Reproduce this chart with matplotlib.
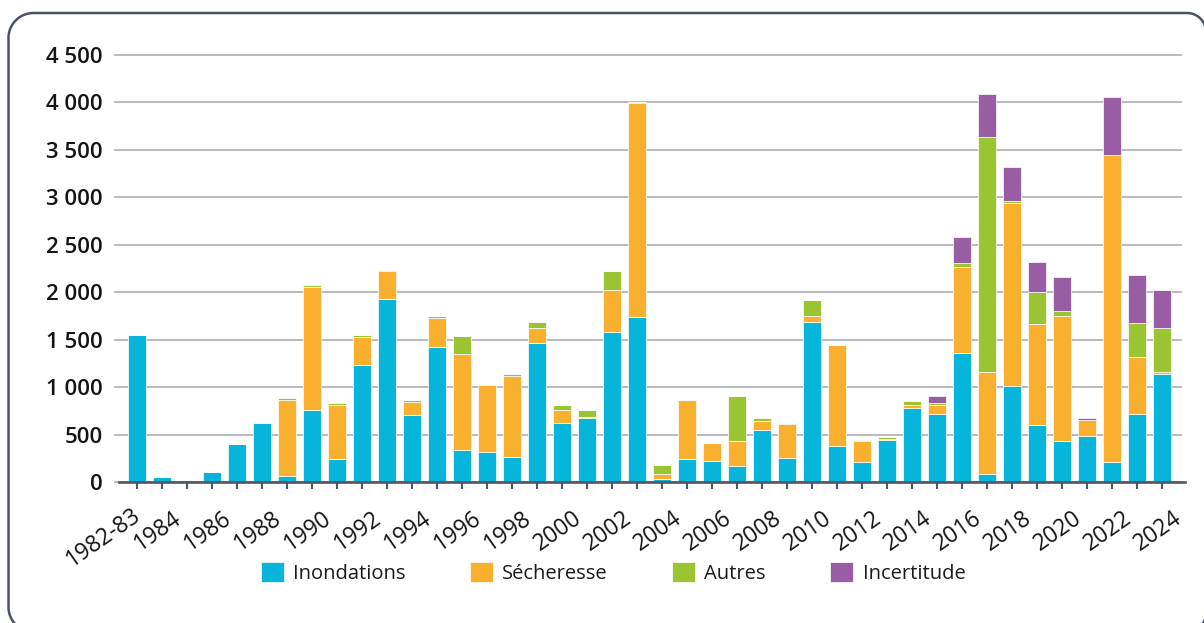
import matplotlib
matplotlib.use("Agg")
import matplotlib.pyplot as plt
import numpy as np
from matplotlib.patches import PathPatch
from matplotlib.path import Path
from matplotlib.transforms import ScaledTranslation

plt.rcParams['font.family'] = ['Open Sans', 'DejaVu Sans']
plt.rcParams['savefig.bbox'] = 'standard'

categories = ['1982-83'] + [str(y) for y in range(1984, 2025)]
shown_labels = ['1982-83', '1984', '1986', '1988', '1990', '1992', '1994', '1996', '1998',
                '2000', '2002', '2004', '2006', '2008', '2010', '2012', '2014', '2016',
                '2018', '2020', '2022', '2024']

inondations = [1550, 50, 25, 110, 400, 620, 65, 758, 242, 1235, 1928, 701, 1425, 341,
               315, 264, 1463, 625, 674, 1576, 1734, 29, 242, 220, 172, 545, 248, 1683,
               376, 213, 446, 784, 712, 1361, 80, 1010, 598, 436, 484, 207, 720, 1143]
secheresse = [0, 0, 0, 0, 0, 0, 796, 1300, 572, 294, 299, 144, 302, 1003, 712, 858,
              156, 133, 15, 449, 2255, 57, 625, 191, 264, 103, 358, 62, 1070, 217, 5,
              30, 95, 909, 1076, 1930, 1064, 1316, 165, 3244, 600, 20]
autres = [0, 0, 0, 0, 0, 0, 19, 17, 19, 18, 5, 22, 18, 199, 7, 17, 72, 56, 72, 194,
          18, 96, 0, 0, 473, 22, 11, 172, 0, 10, 20, 42, 30, 43, 2480, 19, 338, 50,
          5, 0, 353, 463]
incertitude = [0] * 32 + [72, 265, 457, 357, 317, 360, 20, 610, 510, 396]

series_names = ['Inondations', 'Sécheresse', 'Autres', 'Incertitude']
colors = ['#07B5DA', '#F8B02E', '#9BC432', '#985DA3']

yticks = [0, 500, 1000, 1500, 2000, 2500, 3000, 3500, 4000, 4500]
ytick_labels = ['0', '500', '1 000', '1 500', '2 000', '2 500', '3 000', '3 500', '4 000', '4 500']

W, H = 1204, 623
fig = plt.figure(figsize=(W / 100, H / 100), dpi=100)
ax = fig.add_axes([115 / W, (H - 482) / H, (1181 - 115) / W, (482 - 55) / H])

x = np.arange(len(categories))
bottom = np.zeros(len(categories))
handles = []
for name, vals, col in zip(series_names, [inondations, secheresse, autres, incertitude], colors):
    vals = np.array(vals, dtype=float)
    b = ax.bar(x, vals, width=0.72, bottom=bottom, color=col, edgecolor='white',
               linewidth=0.5, label=name, zorder=3)
    handles.append(b)
    bottom += vals

ax.set_xlim(-0.87, 41.75)
ax.set_ylim(0, 4500)
ax.set_yticks(yticks)
ax.set_yticklabels(ytick_labels, fontsize=16, fontweight='semibold', color='#141414')
ax.tick_params(axis='y', length=0, pad=8.6)

ax.yaxis.grid(True, color='#AAAEB6', linewidth=1.2, zorder=0)
for gl in ax.get_ygridlines():
    gl.set_clip_on(False)
ax.set_axisbelow(True)

for s in ['top', 'right', 'left']:
    ax.spines[s].set_visible(False)
ax.spines['bottom'].set_color('#4F5664')
ax.spines['bottom'].set_linewidth(1.9)
ax.spines['bottom'].set_zorder(5)
ax.spines['bottom'].set_bounds(-0.7, 41.9)

ax.set_xticks(x)
labels = [c if c in shown_labels else '' for c in categories]
ax.set_xticklabels(labels, rotation=35, ha='right', va='top', rotation_mode='anchor',
                   fontsize=16.5, color='#141414')
ax.tick_params(axis='x', length=5, width=1.5, color='#4F5664', pad=12.5)
for i, lab in enumerate(ax.get_xticklabels()):
    dx = -5 if i == 0 else 10.5
    dy = 3 if i == 0 else 0
    lab.set_transform(lab.get_transform() + ScaledTranslation(dx / 100, dy / 100, fig.dpi_scale_trans))

leg = fig.legend(handles, series_names, loc='center', bbox_to_anchor=(613 / W, (H - 573) / H),
                 ncol=4, frameon=False, fontsize=14.5, handlelength=1.15, handleheight=1.15,
                 handletextpad=0.45, columnspacing=3.2)
for t in leg.get_texts():
    t.set_color('#1a1a1a')

# rounded outer frame, built in pixel units then mapped to figure fractions
def arc(cx, cy, r, a0, a1, n=24):
    t = np.radians(np.linspace(a0, a1, n))
    return np.column_stack([cx + r * np.cos(t), cy + r * np.sin(t)])

L_, R_, T_, B_ = 8.5, 1206.0, 13.0, 632.0   # image pixel coords (y down)
r1, r2 = 25.0, 19.0
pts = np.vstack([
    arc(L_ + r1, T_ + r1, r1, 180, 270),
    arc(R_ - r2, T_ + r2, r2, 270, 360),
    arc(R_ - r2, B_ - r2, r2, 0, 90),
    arc(L_ + r1, B_ - r1, r1, 90, 180),
    [[L_, T_ + r1]],
])
fpts = np.column_stack([pts[:, 0] / W, (H - pts[:, 1]) / H])
frame = PathPatch(Path(fpts), transform=fig.transFigure, fill=False,
                  edgecolor='#4B5363', linewidth=1.8)
fig.add_artist(frame)
frame.set_clip_on(True)
frame.set_clip_box(fig.bbox)

fig.savefig('out.png', dpi=100, facecolor='white', bbox_inches=None)
